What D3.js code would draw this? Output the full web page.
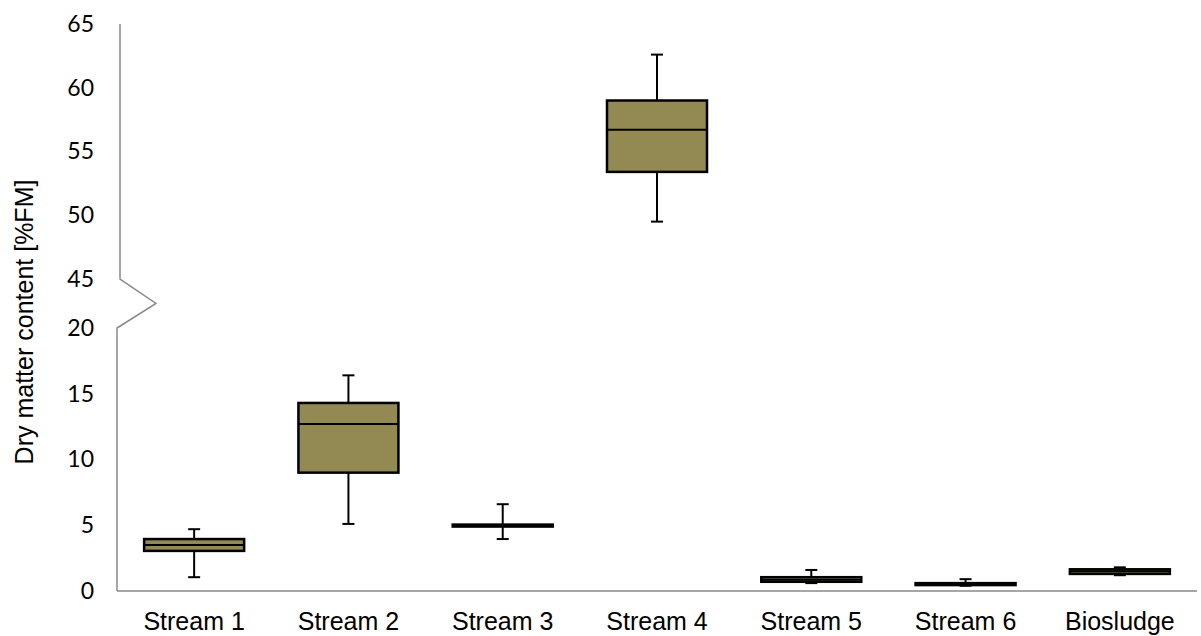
<!DOCTYPE html>
<html>
<head>
<meta charset="utf-8">
<script src="https://cdn.jsdelivr.net/npm/d3@7"></script>
<style>
  body { margin: 0; background: #fff; }
  text { fill: #000; }
</style>
</head>
<body>
<div id="chart"></div>
<script>
// data
var categories = ["Stream 1", "Stream 2", "Stream 3", "Stream 4", "Stream 5", "Stream 6", "Biosludge"];
var whiskerMin = [1.05, 5.1, 3.95, 49.5, 0.6, 0.4, 1.2];
var q1 = [3.05, 9.0, 4.9, 53.4, 0.7, 0.45, 1.3];
var median = [3.5, 12.7, 4.95, 56.7, 0.85, 0.5, 1.5];
var q3 = [3.95, 14.3, 5.05, 59.0, 1.05, 0.6, 1.65];
var whiskerMax = [4.7, 16.4, 6.6, 62.6, 1.6, 0.9, 1.8];
var lowerTicks = [0, 5, 10, 15, 20];
var upperTicks = [45, 50, 55, 60, 65];

var width = 1201, height = 636;
var fillColor = "#938953";

var svg = d3.select("#chart").append("svg")
    .attr("width", width)
    .attr("height", height);

var xScale = d3.scaleBand()
    .domain(categories)
    .range([117, 1197])
    .paddingInner(0)
    .paddingOuter(0);

// broken y axis: two segments
var yLower = d3.scaleLinear().domain([0, 20]).range([591, 328]);
var yUpper = d3.scaleLinear().domain([45, 65]).range([279, 24]);
function yv(v) { return v >= 45 ? yUpper(v) : yLower(v); }

var data = categories.map(function (c, i) {
    return { cat: c, min: whiskerMin[i], q1: q1[i], med: median[i], q3: q3[i], max: whiskerMax[i] };
});

// axis lines
var axisColor = "#898989";
svg.append("path")
    .attr("fill", "none")
    .attr("stroke", axisColor)
    .attr("stroke-width", 1.5)
    .attr("d", "M120," + yUpper(65) + "V" + yUpper(45) +
        "L156," + ((yUpper(45) + yLower(20)) / 2) +
        "L117," + yLower(20) + "V" + yLower(0));

svg.append("line")
    .attr("x1", 117).attr("x2", xScale.range()[1])
    .attr("y1", yLower(0)).attr("y2", yLower(0))
    .attr("stroke", axisColor)
    .attr("stroke-width", 1.5);

// y tick labels
var tickFont = "Lato, 'Open Sans', sans-serif";
[yLower, yUpper].forEach(function (sc, k) {
    svg.append("g")
        .attr("transform", "translate(94,0)")
        .call(d3.axisLeft(sc).tickValues(k == 0 ? lowerTicks : upperTicks).tickSize(0).tickPadding(0))
        .call(g => g.select(".domain").remove())
        .selectAll("text")
        .style("font-family", tickFont)
        .style("font-size", "23px")
        .attr("fill", "#000");
});

// x labels
svg.append("g")
    .attr("transform", "translate(0," + yLower(0) + ")")
    .call(d3.axisBottom(xScale).tickSize(0).tickPadding(21))
    .call(g => g.select(".domain").remove())
    .selectAll("text")
    .style("font-family", "'Liberation Sans', Arial, sans-serif")
    .style("font-size", "25px")
    .attr("fill", "#000");

// y title
svg.append("text")
    .attr("transform", "translate(33,322) rotate(-90)")
    .attr("text-anchor", "middle")
    .style("font-family", "'Liberation Sans', Arial, sans-serif")
    .style("font-size", "25px")
    .text("Dry matter content [%FM]");

// boxes
var boxW = 100, capW = 12;
var g = svg.append("g")
    .selectAll("g")
    .data(data)
    .join("g")
    .attr("transform", d => "translate(" + (xScale(d.cat) + xScale.bandwidth() / 2) + ",0)");

g.append("line")
    .attr("x1", 0).attr("x2", 0)
    .attr("y1", d => yv(d.max)).attr("y2", d => yv(d.min))
    .attr("stroke", "#000").attr("stroke-width", 2);

g.append("line")
    .attr("x1", -capW / 2).attr("x2", capW / 2)
    .attr("y1", d => yv(d.max)).attr("y2", d => yv(d.max))
    .attr("stroke", "#000").attr("stroke-width", 2);

g.append("line")
    .attr("x1", -capW / 2).attr("x2", capW / 2)
    .attr("y1", d => yv(d.min)).attr("y2", d => yv(d.min))
    .attr("stroke", "#000").attr("stroke-width", 2);

g.append("rect")
    .attr("x", -boxW / 2)
    .attr("width", boxW)
    .attr("y", d => yv(d.q3))
    .attr("height", d => yv(d.q1) - yv(d.q3))
    .attr("fill", fillColor)
    .attr("stroke", "#000")
    .attr("stroke-width", 2.5);

g.append("line")
    .attr("x1", -boxW / 2).attr("x2", boxW / 2)
    .attr("y1", d => yv(d.med)).attr("y2", d => yv(d.med))
    .attr("stroke", "#000").attr("stroke-width", 2);
</script>
</body>
</html>
